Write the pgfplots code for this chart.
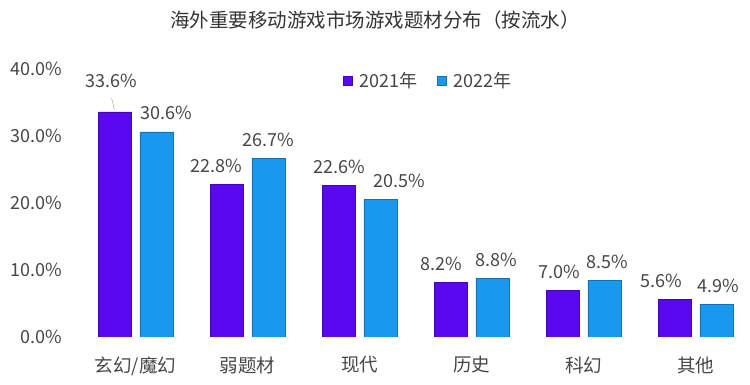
\documentclass[border=0pt]{standalone}
\usepackage{pgfplots}
\pgfplotsset{compat=1.18}
\usepackage{pgfplotstable}
\usepackage{fontspec}
\setmainfont{Noto Sans CJK SC}
\definecolor{c21}{RGB}{90,8,242}
\definecolor{c22}{RGB}{24,152,238}
\definecolor{txt}{RGB}{70,70,70}
\definecolor{ttl}{RGB}{51,51,51}
\pgfplotstableread{
x y dx
0 33.6 0
1 22.8 -11
2 22.6 0
3 8.2 -10
4 7.0 -4
5 5.6 -14
}\dataA
\pgfplotstableread{
x y dx
0 30.6 10
1 26.7 0
2 20.5 19
3 8.8 4
4 8.5 3
5 4.9 2
}\dataB
\begin{document}
\begin{tikzpicture}[x=1pt,y=1pt]
\path[use as bounding box] (-74,-48) rectangle (676,337);
\begin{axis}[
  at={(0,0)}, anchor=south west,
  scale only axis, width=672pt, height=268pt,
  xmin=-0.55, xmax=5.45, ymin=0, ymax=40,
  axis line style={draw=none}, major tick length=0pt,
  xtick={0,1,2,3,4,5},
  xticklabels={玄幻/魔幻,弱题材,现代,历史,科幻,其他},
  xticklabel style={font=\fontsize{18.5}{20}\selectfont, text=txt, yshift=-16pt},
  ytick={0,10,20,30,40},
  /pgf/number format/assume math mode=true,
  yticklabel={\pgfmathprintnumber[fixed,fixed zerofill,precision=1]{\tick}\%},
  yticklabel style={font=\fontsize{18}{20}\selectfont, text=txt, xshift=-8pt},
  ybar, bar width=0.295,
  legend columns=2,
  legend style={draw=none, fill=none, at={(0.527,0.955)}, anchor=center,
    font=\fontsize{18}{20}\selectfont, text=txt,
    /tikz/every odd column/.append style={column sep=5pt},
    /tikz/every even column/.append style={column sep=18pt}},
  legend image code/.code={\fill[#1] (0pt,-4.5pt) rectangle (9pt,4.5pt);},
]
\addplot[fill=c21, draw=c21!75!black, line width=0.5pt, bar shift=-0.185,
  visualization depends on={\thisrow{dx} \as \dx},
  nodes near coords={\ifnum\coordindex=0\relax\else\pgfmathprintnumber[fixed,fixed zerofill,precision=1]{\pgfplotspointmeta}\%\fi},
  nodes near coords style={font=\fontsize{18}{20}\selectfont, text=txt, anchor=base, inner sep=0pt, yshift=12pt, xshift=\dx*1pt}]
  table[x=x, y=y, meta=y] {\dataA};
\addplot[fill=c22, draw=c22!75!black, line width=0.5pt, bar shift=0.185,
  visualization depends on={\thisrow{dx} \as \dx},
  nodes near coords={\pgfmathprintnumber[fixed,fixed zerofill,precision=1]{\pgfplotspointmeta}\%},
  nodes near coords style={font=\fontsize{18}{20}\selectfont, text=txt, anchor=base, inner sep=0pt, yshift=12pt, xshift=\dx*1pt}]
  table[x=x, y=y, meta=y] {\dataB};
\legend{2021年,2022年}
\node[font=\fontsize{18}{20}\selectfont, text=txt] at (axis cs:-0.214,38.2) {33.6\%};
\draw[gray!70, line width=0.5pt] (axis cs:-0.214,35.67) -- (axis cs:-0.19,33.9);
\end{axis}
\node[font=\fontsize{19.5}{22}\selectfont, text=ttl] at (301,317) {海外重要移动游戏市场游戏题材分布（按流水）};
\end{tikzpicture}
\end{document}
